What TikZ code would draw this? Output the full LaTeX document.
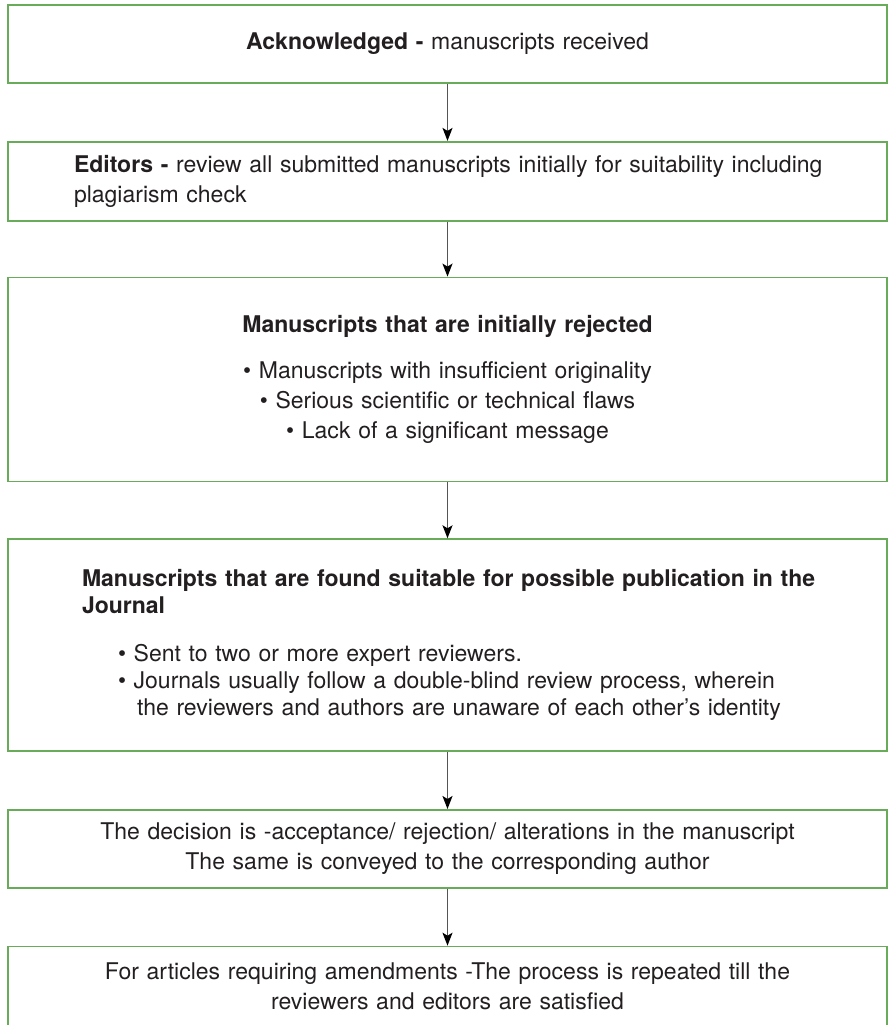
\documentclass[tikz,border=0pt]{standalone}
\usepackage{fontspec}
\setmainfont{TeX Gyre Heros}
\usetikzlibrary{arrows.meta,positioning}
\definecolor{boxgreen}{RGB}{104,171,88}
\definecolor{arrgray}{RGB}{85,85,85}
\definecolor{inktext}{RGB}{35,31,32}
\tikzset{
  blk/.style={draw=boxgreen, rectangle, line width=1.7pt, text width=840pt, inner xsep=19.5pt, align=center, text=inktext, font=\fontsize{23}{30}\selectfont},
  lblk/.style={blk, align=left},
  arr/.style={-{Stealth[length=13pt, width=10pt, inset=3pt, color=black]}, line width=1.5pt, draw=arrgray},
}
\begin{document}
\begin{tikzpicture}
\useasboundingbox (0,0) rectangle (889pt,-1025pt);

\node[blk, minimum height=78pt, anchor=north] (ack) at (447.5pt,-4.2pt) {\textbf{Acknowledged -} manuscripts received};
\node[lblk, minimum height=79pt, below=57pt of ack] (editors)
  {\hspace*{46.5pt}\textbf{Editors -} review all submitted manuscripts initially for suitability including\\
   \hspace*{46.5pt}plagiarism check};
\node[blk, minimum height=204pt, below=55pt of editors] (reject)
  {\textbf{Manuscripts that are initially rejected}\\[16pt]
   \textbullet\ Manuscripts with insufficient originality\\
   \textbullet\ Serious scientific or technical flaws\\
   \textbullet\ Lack of a significant message};
\node[lblk, font=\fontsize{23}{27}\selectfont, minimum height=212pt, below=56pt of reject] (suitable)
  {\hspace*{54.5pt}\textbf{Manuscripts that are found suitable for possible publication in the}\\
   \hspace*{54.5pt}\textbf{Journal}\\[21pt]
   \hspace*{90.5pt}\textbullet\ Sent to two or more expert reviewers.\\
   \hspace*{90.5pt}\textbullet\ Journals usually follow a double-blind review process, wherein\\
   \hspace*{109.5pt}the reviewers and authors are unaware of each other's identity};
\node[blk, minimum height=78pt, below=57pt of suitable] (decision)
  {The decision is -acceptance/ rejection/ alterations in the manuscript\\The same is conveyed to the corresponding author};
\node[blk, minimum height=80pt, below=57pt of decision] (amend)
  {For articles requiring amendments -The process is repeated till the\\reviewers and editors are satisfied};

\draw[arr] (ack) -- (editors);
\draw[arr] (editors) -- (reject);
\draw[arr] (reject) -- (suitable);
\draw[arr] (suitable) -- (decision);
\draw[arr] (decision) -- (amend);

\end{tikzpicture}
\end{document}
